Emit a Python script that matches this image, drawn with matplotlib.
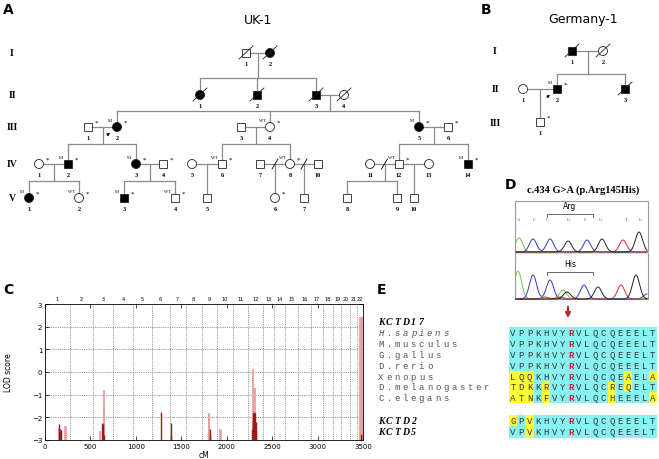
import re
import numpy as np
import matplotlib
matplotlib.use('Agg')
import matplotlib.pyplot as plt
from matplotlib.patches import Rectangle, Circle

# ---------------- data ----------------
# UK-1 pedigree
uk_id = ['I1', 'I2', 'II1', 'II2', 'II3', 'II4', 'III1', 'III2', 'III3', 'III4', 'III5', 'III6',
         'IV1', 'IV2', 'IV3', 'IV4', 'IV5', 'IV6', 'IV7', 'IV8', 'IV10', 'IV11', 'IV12', 'IV13', 'IV14',
         'V1', 'V2', 'V3', 'V4', 'V5', 'V6', 'V7', 'V8', 'V9', 'V10']
uk_sex = 'MFFMMFMFMFFMFMFMFMMFMFMFMFFMMMFMMMM'
uk_aff = ['I2', 'II1', 'II2', 'II3', 'III2', 'III5', 'IV2', 'IV3', 'IV14', 'V1', 'V3']
uk_dec = ['I1', 'I2', 'II1', 'II2', 'II3', 'II4']
uk_mut = ['III2', 'III5', 'IV2', 'IV3', 'IV14', 'V1', 'V3']
uk_wt = ['III4', 'IV6', 'IV8', 'IV12', 'V2', 'V4']
uk_star = ['III1', 'III2', 'III4', 'III5', 'III6', 'IV1', 'IV2', 'IV3', 'IV4', 'IV6', 'IV8',
           'IV12', 'IV14', 'V1', 'V2', 'V3', 'V4', 'V6']
uk_couples = [('I1', 'I2'), ('II3', 'II4'), ('III1', 'III2'), ('III3', 'III4'), ('III5', 'III6'),
              ('IV1', 'IV2'), ('IV3', 'IV4'), ('IV5', 'IV6'), ('IV7', 'IV8'), ('IV8', 'IV10'),
              ('IV11', 'IV12'), ('IV12', 'IV13')]
uk_kids = [['II1', 'II2', 'II3'], ['III2', 'III4', 'III5'], ['IV2', 'IV3'], ['IV6', 'IV8'],
           ['IV12', 'IV14'], ['V1', 'V2'], ['V3', 'V4'], ['V5'], ['V6'], ['V7'], ['V8', 'V9'], ['V10']]
uk_sep = ['IV7-IV8', 'IV8-IV10', 'IV11-IV12']
uk_proband = 'III2'

# Germany-1 pedigree
de_id = ['I1', 'I2', 'II1', 'II2', 'II3', 'III1']
de_sex = 'MFFMMM'
de_aff = ['I1', 'II2', 'II3']
de_dec = ['I1', 'I2', 'II3']
de_mut = ['II2']
de_wt = []
de_star = ['II2', 'III1']
de_couples = [('I1', 'I2'), ('II1', 'II2')]
de_kids = [['II2', 'II3'], ['III1']]
de_proband = 'II2'

# LOD scores (genome-wide, cM)
chrom_len = [273, 257, 220, 217, 206, 200, 174, 176, 174, 170, 166, 164, 126, 117, 143, 140,
             134, 116, 90, 94, 76, 67]
peak_cm = [150, 158, 168, 175, 225, 232, 600, 628, 635, 645, 648, 650, 1280, 1385, 1390,
           1800, 1808, 1812, 1815, 1925, 1932,
           2280, 2284, 2288, 2292, 2296, 2300, 2305, 2310, 2314, 2318, 2322,
           3468, 3474, 3478, 3484, 3490, 3495]
peak_lod = [-2.31, -2.45, -2.5, -2.55, -2.38, -2.4, -2.6, -2.24, -2.3, -0.78, -1.6, -2.8, -1.76, -2.27, -2.8,
            -1.8, -1.85, -2.5, -2.8, -2.52, -2.55,
            -2.5, -2.1, 0.15, -1.8, -1.75, -1.9, -0.72, -0.72, -1.8, -2.2, -2.6,
            2.41, -2.75, 2.41, 2.41, -2.0, -2.8]
peak_dark = [1, 0, 1, 1, 0, 0, 0, 1, 1, 0, 0, 1, 1, 1, 1,
             0, 0, 1, 1, 0, 0,
             1, 1, 0, 1, 1, 1, 0, 0, 1, 1, 1,
             0, 1, 0, 0, 0, 1]

# chromatogram peaks (wild type above, patient below)
wt_bases = 'ACCGCGTG'
wt_pk_x = [519, 533, 550, 568, 587, 602, 623, 639]
wt_pk_h = [14, 13, 13, 11, 12, 13, 12, 20]
wt_pk_c = ['g', 'b', 'b', 'k', 'b', 'k', 'r', 'k']
pt_pk_x = [518, 533, 550, 545, 560, 563, 567, 584, 598, 621, 636, 647]
pt_pk_h = [28, 24, 19, 2, 2, 9, 7, 14, 12, 14, 24, 5]
pt_pk_c = ['g', 'b', 'b', 'r', 'r', 'g', 'k', 'b', 'k', 'r', 'k', 'b']
base_x = [519, 534, 547, 568, 585, 600, 626, 640]

# alignment
orth_names = ['H.sapiens', 'M.musculus', 'G.gallus', 'D.rerio', 'Xenopus', 'D.melanogaster', 'C.elegans']
orth_seqs = ['VPPKHVYRVLQCQEEELT', 'VPPKHVYRVLQCQEEELT', 'VPPKHVYRVLQCQEEELT', 'VPPKHVYRVLQCQEEELT',
             'LQQKHVYRVLQCQEAELA', 'TDKKRVYRVLQCREQELT', 'ATNKFVYRVLQCHEEELA']
orth_diff = [[], [], [], [], [0, 1, 2, 14, 17], [0, 1, 2, 4, 12, 14], [0, 1, 2, 4, 12, 17]]
para_names = ['KCTD2', 'KCTD5']
para_seqs = ['GPVKHVYRVLQCQEEELT', 'VPVKHVYRVLQCQEEELT']
para_diff = [[0, 2], [2]]
mut_pos = 7

# ---------------- figure ----------------
fig = plt.figure(figsize=(6.59, 4.60), dpi=100)
ax = fig.add_axes([0, 0, 1, 1])
ax.set_xlim(0, 659)
ax.set_ylim(460, 0)
ax.axis('off')

LINE = '#8a8a8a'
r = 4.2


def split_id(s):
    m = re.match(r'([IV]+)(\d+)', s)
    return m.group(1), m.group(2)


def draw_pedigree(ids, sex, aff, dec, mut, wt, star, xs, gen_y, sib_y, couples, kids, sep, proband):
    pos = {}
    for i, s in enumerate(ids):
        g, n = split_id(s)
        pos[s] = (xs[i], gen_y[g])
    # lines
    for (a, b), ch in zip(couples, kids):
        xa, y = pos[a]
        xb, _ = pos[b]
        ax.plot([xa + r, xb - r], [y, y], color=LINE, lw=0.9, zorder=1)
        mid = (xa + xb) / 2
        if a + '-' + b in sep:
            ax.plot([mid - 3, mid + 3], [y + 5, y - 5], color='k', lw=0.6, zorder=3)
        g = split_id(a)[0]
        sy = sib_y[g]
        cx = [pos[c][0] for c in ch]
        if len(ch) == 1:
            ax.plot([mid, mid], [y, pos[ch[0]][1] - r], color=LINE, lw=0.9, zorder=1)
            continue
        ax.plot([mid, mid], [y, sy], color=LINE, lw=0.9, zorder=1)
        ax.plot([min(cx + [mid]), max(cx + [mid])], [sy, sy], color=LINE, lw=0.9, zorder=1)
        for c in ch:
            ax.plot([pos[c][0], pos[c][0]], [sy, pos[c][1] - r], color=LINE, lw=0.9, zorder=1)
    # symbols
    for i, s in enumerate(ids):
        x, y = pos[s]
        fc = 'k' if s in aff else 'white'
        if sex[i] == 'M':
            p = Rectangle((x - r, y - r), 2 * r, 2 * r, fc=fc, ec='#222', lw=0.6, zorder=2)
        else:
            p = Circle((x, y), r + 0.3, fc=fc, ec='#222', lw=0.6, zorder=2)
        ax.add_patch(p)
        if s in dec:
            ax.plot([x - 7, x + 7], [y + 6, y - 7], color='#222', lw=0.6, zorder=3)
        g, n = split_id(s)
        ax.text(x, y + 11, n, ha='center', va='center', fontsize=4.5, fontweight='bold',
                family='Liberation Serif')
        if s in mut:
            ax.text(x - 7, y - 7, 'M', ha='center', va='center', fontsize=3.2, family='Liberation Serif')
        if s in wt:
            ax.text(x - 8, y - 7, 'WT', ha='center', va='center', fontsize=3.2, family='Liberation Serif')
        if s in star:
            ax.text(x + 8, y - 5, '*', ha='center', va='center', fontsize=5, family='Liberation Serif')
        if s == proband:
            ax.annotate('', xy=(x - 5, y + 4), xytext=(x - 12, y + 10),
                        arrowprops=dict(arrowstyle='-|>', lw=0.6, color='k', mutation_scale=4))
    for g, y in gen_y.items():
        ax.text(gen_lab_x, y, g, ha='center', va='center', fontsize=7, fontweight='bold',
                family='Liberation Serif')


# A : UK-1
uk_x = [246, 270,
        200, 257, 316, 344,
        88, 117, 241, 270, 419, 448,
        39, 68, 136, 163, 192, 222, 260, 290, 318, 370, 399, 429, 468,
        29, 79, 124, 175, 207, 275, 304, 347, 397, 414]
gen_lab_x = 12
draw_pedigree(uk_id, uk_sex, uk_aff, uk_dec, uk_mut, uk_wt, uk_star, uk_x,
              {'I': 54, 'II': 96, 'III': 128, 'IV': 165, 'V': 199},
              {'I': 79, 'II': 112, 'III': 145, 'IV': 182},
              uk_couples, uk_kids, uk_sep, uk_proband)
ax.text(8, 10, 'A', fontsize=10, fontweight='bold', ha='center', va='center')
ax.text(258, 20, 'UK-1', fontsize=9, ha='center', va='center')

# B : Germany-1
de_x = [572, 603, 523, 557, 625, 540]
gen_lab_x = 495
draw_pedigree(de_id, de_sex, de_aff, de_dec, de_mut, de_wt, de_star, de_x,
              {'I': 52, 'II': 90, 'III': 123},
              {'I': 75, 'II': 108},
              de_couples, de_kids, [], de_proband)
ax.text(486, 10, 'B', fontsize=10, fontweight='bold', ha='center', va='center')
ax.text(583, 19, 'Germany-1', fontsize=9, ha='center', va='center')

# C : LOD plot
ax.text(8, 290, 'C', fontsize=10, fontweight='bold', ha='center', va='center')
lx = fig.add_axes([45 / 659, 19 / 460, 318 / 659, 136 / 460])
bounds = np.cumsum(chrom_len)
for b in bounds[:-1]:
    lx.axvline(b, color='#777', lw=0.6, ls=(0, (1, 1.2)), zorder=0)
for yv in range(-2, 3):
    lx.axhline(yv, color='#777', lw=0.6, ls=(0, (1, 1.2)), zorder=0)
starts = np.concatenate([[0], bounds[:-1]])
for i, (s, e) in enumerate(zip(starts, bounds)):
    lx.text((s + e) / 2, 3.12, str(i + 1), fontsize=3.5, ha='center', va='bottom')
for cm, lod, dk in zip(peak_cm, peak_lod, peak_dark):
    lx.vlines(cm, -3, lod, color='#a01818' if dk else '#e9a0a0', lw=1.0 if dk else 1.3,
              zorder=3 if dk else 2)
lx.set_xlim(0, 3500)
lx.set_ylim(-3, 3)
lx.set_xticks(range(0, 3501, 500))
lx.set_yticks(range(-3, 4))
lx.tick_params(direction='in', top=True, right=True, labelsize=5, length=3, width=0.5, pad=2)
for sp in lx.spines.values():
    sp.set_linewidth(0.6)
lx.set_xlabel('cM', fontsize=5.5, labelpad=1)
lx.set_ylabel('LOD score', fontsize=5.5)
lx.yaxis.set_label_coords(-0.1, 0.5)

# D : chromatogram
ax.text(510, 185, 'D', fontsize=10, fontweight='bold', ha='center', va='center')
ax.text(583, 190, 'c.434 G>A (p.Arg145His)', fontsize=7.5, fontweight='bold', ha='center',
        va='center', family='Liberation Serif')
box_l, box_r, box_t, box_b = 515, 648, 202, 300
ax.add_patch(Rectangle((box_l, box_t), box_r - box_l, box_b - box_t, fc='white', ec='#999', lw=0.8))
wt_base, pt_base = 253, 300
ax.plot([box_l + 1, box_r - 1], [wt_base, wt_base], color='#d0d0d0', lw=1.8)
cols = {'g': '#66cc44', 'b': '#3535c8', 'k': '#222222', 'r': '#cc3333'}
xx = np.linspace(box_l + 1, box_r - 1, 500)
for pk_x, pk_h, pk_c, base in [(wt_pk_x, wt_pk_h, wt_pk_c, wt_base), (pt_pk_x, pt_pk_h, pt_pk_c, pt_base)]:
    for c in 'gbrk':
        yy = np.zeros_like(xx)
        for px, ph, pc in zip(pk_x, pk_h, pk_c):
            if pc == c:
                yy += ph * np.exp(-0.5 * ((xx - px) / 3.6) ** 2)
        ax.plot(xx, base - yy, color=cols[c], lw=0.7)
for bx, bc in zip(base_x, wt_bases):
    ax.text(bx, 220, bc, fontsize=3.2, ha='center', va='center', color='#444', family='Liberation Serif')
for lab, ly in [('Arg', 207), ('His', 265)]:
    ax.text(570, ly, lab, fontsize=5.5, ha='center', va='center')
    ax.plot([547, 547, 593, 593], [ly + 11, ly + 8, ly + 8, ly + 11], color='#555', lw=0.6)
ax.annotate('', xy=(568, 322), xytext=(568, 305),
            arrowprops=dict(arrowstyle='-|>', lw=1.6, color='#c0282d', mutation_scale=7))

# E : alignment
ax.text(381, 290, 'E', fontsize=10, fontweight='bold', ha='center', va='center')
cell = 8.22
seq_x0 = 509
lab_x0 = 381
sp = 8.1


def spaced(text, x0, y, **kw):
    for k, ch in enumerate(text):
        ax.text(x0 + k * sp, y, ch, ha='center', va='center', **kw)


def seq_row(seq, diff, y):
    for k, ch in enumerate(seq):
        ax.add_patch(Rectangle((seq_x0 + k * cell, y - 5.6), cell, 11.2,
                               fc='#ffff33' if k in diff else '#88f2f2', ec='none'))
    for k, ch in enumerate(seq):
        red = k == mut_pos
        ax.text(seq_x0 + (k + 0.5) * cell, y, ch, ha='center', va='center', fontsize=6.5,
                family='Liberation Mono', color='#c0282d' if red else '#333',
                fontweight='bold' if red else 'normal')


spaced('KCTD17', lab_x0, 323, fontsize=7, fontweight='bold', style='italic', family='Liberation Serif')
for i, (nm, sq, df) in enumerate(zip(orth_names, orth_seqs, orth_diff)):
    y = 333.5 + i * 10.9
    spaced(nm, lab_x0, y, fontsize=6.5, color='#555', family='Liberation Mono',
           style='italic' if i == 0 else 'normal')
    seq_row(sq, df, y)
for i, (nm, sq, df) in enumerate(zip(para_names, para_seqs, para_diff)):
    y = 422 + i * 11
    spaced(nm, lab_x0, y, fontsize=7, fontweight='bold', style='italic', family='Liberation Serif')
    seq_row(sq, df, y)

fig.savefig('out.png', dpi=100)
